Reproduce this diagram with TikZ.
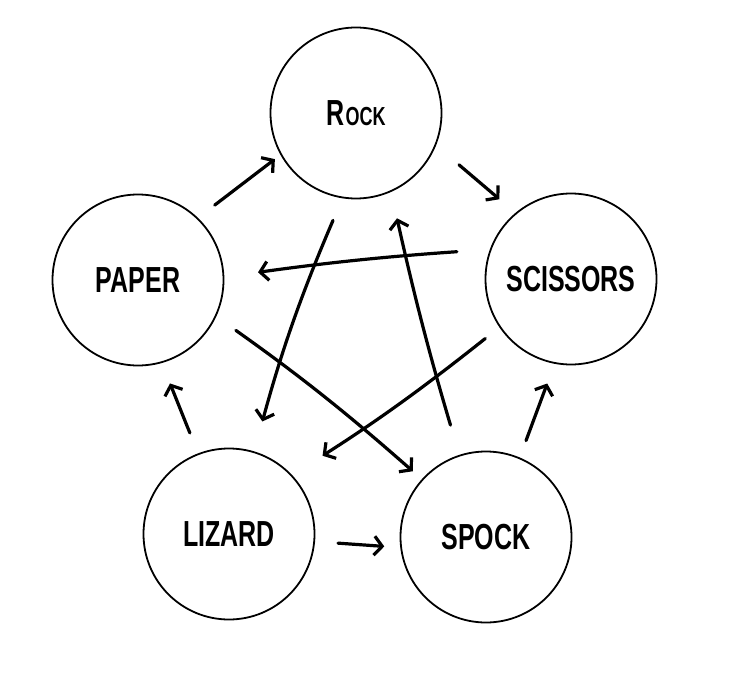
\documentclass[tikz,border=0pt]{standalone}
\usepackage{fontspec}
\setmainfont{Liberation Sans}
\usepackage{graphicx}
\usetikzlibrary{positioning,arrows.meta}
\newdimen\circSize
\circSize=171pt
\newcommand{\tallText}[1]{\scalebox{1}[1.45]{#1}}

\begin{document}
\begin{tikzpicture}[
    x=1pt, y=-1pt,
    node/.style={%
      draw,
      circle,
      line width=1.8pt,
      minimum size=\circSize,
      inner sep=0pt,
      font=\fontsize{25}{25}\selectfont\bfseries,
    },
    arr/.style={%
      line width=3.2pt,
      line cap=round,
      line join=round,
      -{Straight Barb[length=8pt,width=19pt]},
    },
  ]

    \useasboundingbox (0,0) rectangle (736,679);

    \node [node] (rock) at (356,113) {\tallText{R\kern1pt{\fontsize{18}{18}\selectfont OCK}}};
    \path (rock) ++(-218,167) node [node] (paper) {\tallText{PAPER}};
    \path (rock) ++(215,166) node [node] (scissors) {\tallText{SCISSORS}};
    \path (paper) ++(91,254) node [node] (lizard) {\tallText{LIZARD}};
    \path (scissors) ++(-85,258) node [node] (spock) {\tallText{SPOCK}};


    \draw [arr, shorten <=21pt, shorten >=7pt] (paper.46) -- (rock.209);
    \draw [arr, shorten <=30pt, shorten >=21pt] (rock.-22) -- (scissors.130);
    \draw [arr, shorten <=18pt, shorten >=21pt] (spock.67) -- (scissors.-101);
    \draw [arr, shorten <=23pt, shorten >=16pt] (lizard.-5) -- (spock.187);
    \draw [arr, shorten <=22pt, shorten >=22pt] (lizard.111) -- (paper.-74);

    \draw [arr, shorten <=24pt, shorten >=31pt] (rock.-99) to [bend right=4] (lizard.73);
    \draw [arr, shorten <=33pt, shorten >=34pt] (scissors.160) to [bend right=2] (paper.2);
    \draw [arr, shorten <=24pt, shorten >=12pt] (paper.-25) to [bend left=3] (spock.138);
    \draw [arr, shorten <=31pt, shorten >=27pt] (spock.108) to [bend left=2] (rock.-66);
    \draw [arr, shorten <=18pt, shorten >=36pt] (scissors.214) to [bend left=3] (lizard.43);
\end{tikzpicture}
\end{document}
